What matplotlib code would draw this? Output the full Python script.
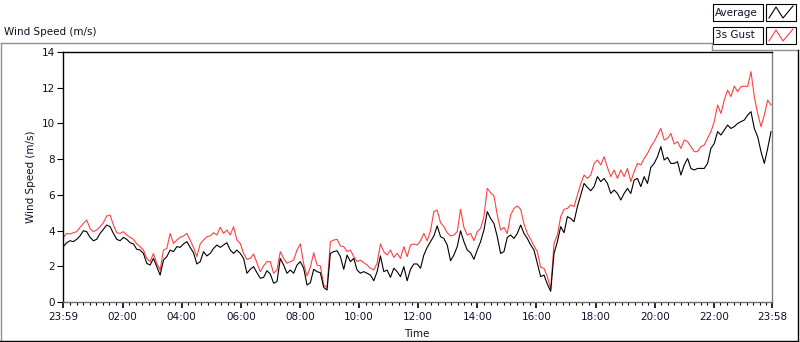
import numpy as np
import matplotlib
matplotlib.use("Agg")
import matplotlib.pyplot as plt
from matplotlib.lines import Line2D
from matplotlib.patches import Rectangle

plt.rcParams['font.family'] = ['DejaVu Sans']

# ---- data (one sample every ~6.8 minutes) ----
avg_part1 = [3.10, 3.32, 3.43, 3.38, 3.51, 3.70, 3.99, 3.94, 3.62, 3.43, 3.51, 3.84, 4.07, 4.31, 4.22,
             3.84, 3.51, 3.43, 3.62, 3.51, 3.32, 3.25, 2.95, 2.91, 2.72, 2.16, 2.07, 2.44, 1.98, 1.51,
             2.35, 2.54, 2.91, 2.82, 3.10]
gust_part1 = [3.62, 3.84, 3.81, 3.88, 3.94, 4.18, 4.40, 4.59, 4.12, 3.94, 4.03, 4.22, 4.44, 4.82, 4.87,
              4.31, 3.88, 3.84, 3.94, 3.75, 3.62, 3.51, 3.25, 3.10, 2.91, 2.44, 2.26, 2.72, 2.16, 1.79,
              2.91, 3.00, 3.84, 3.28, 3.47]
avg_part2 = [3.06, 3.25, 3.38, 3.06, 2.76, 2.13, 2.26, 2.82, 2.58, 2.72, 3.00, 3.19, 3.06, 3.19, 3.32,
             2.91, 2.72, 2.91, 2.72, 2.44, 1.61, 1.83, 1.98, 1.64, 1.33, 1.38, 1.75, 1.57, 1.05, 1.14,
             2.44, 2.07, 1.61, 1.79, 1.61]
gust_part2 = [3.62, 3.70, 3.84, 3.47, 3.06, 2.54, 3.25, 3.47, 3.66, 3.70, 3.88, 3.75, 4.18, 3.84, 4.03,
              3.75, 4.22, 3.47, 3.28, 2.72, 2.39, 2.44, 2.69, 2.20, 1.70, 2.02, 2.26, 2.26, 1.61, 1.79,
              2.82, 2.44, 2.17, 2.26, 2.35]
avg_part3 = [2.07, 2.26, 1.89, 0.95, 1.08, 1.83, 1.70, 1.64, 0.82, 0.67, 2.72, 2.82, 2.87, 2.54, 1.83,
             2.63, 2.26, 2.44, 1.79, 1.61, 1.70, 1.61, 1.51, 1.19, 1.70, 2.58, 1.70, 1.79, 1.38, 1.89,
             1.70, 1.42, 1.98, 1.19, 1.83, 2.13]
gust_part3 = [2.91, 3.25, 2.13, 1.46, 1.94, 2.76, 2.07, 2.02, 0.95, 0.82, 3.38, 3.47, 3.51, 3.14, 3.10,
              2.82, 2.91, 2.54, 2.26, 2.35, 2.20, 2.07, 1.89, 1.79, 2.17, 3.25, 2.82, 2.63, 2.91, 2.50,
              2.72, 2.44, 3.10, 2.54, 3.19, 3.25]
avg_part4 = [2.13, 1.89, 2.63, 3.06, 3.38, 3.70, 4.26, 3.66, 3.56, 3.19, 2.31, 2.63, 3.10, 3.99, 3.38,
             2.91, 2.76, 2.39, 2.91, 3.38, 4.03, 5.06, 4.68, 4.40, 3.66, 2.72, 2.82, 3.62, 3.75, 3.56,
             3.84, 4.31, 3.84, 3.56, 3.19, 2.91, 2.17]
gust_part4 = [3.19, 3.43, 3.84, 3.43, 3.99, 5.06, 5.15, 4.44, 4.22, 3.88, 3.70, 3.75, 3.94, 5.19, 4.18,
              3.75, 3.84, 3.43, 3.94, 4.12, 4.78, 6.36, 6.12, 5.94, 4.87, 4.03, 4.18, 3.84, 4.87, 5.24,
              5.38, 5.19, 4.37, 3.84, 3.51, 3.14, 2.82]
avg_part5 = [1.42, 1.51, 1.00, 0.60, 2.72, 3.38, 4.22, 3.88, 4.78, 4.68, 4.50, 5.34, 5.99, 6.64, 6.42,
             6.23, 6.46, 7.02, 6.74, 6.92, 6.64, 6.08, 6.27, 6.08, 5.71, 6.08, 6.36, 6.08, 6.83, 6.92,
             6.46, 7.02, 6.64, 7.54, 7.76, 8.14, 8.70]
gust_part5 = [1.94, 1.88, 1.42, 0.75, 3.28, 3.75, 4.78, 5.19, 5.24, 5.43, 5.34, 5.99, 6.61, 7.11, 6.92,
              7.11, 7.76, 7.95, 7.67, 8.14, 7.54, 7.02, 7.39, 6.92, 7.39, 7.02, 7.48, 6.74, 7.30, 7.76,
              7.67, 8.04, 8.32, 8.70, 8.98, 9.35, 9.72]
avg_part6 = [7.95, 8.10, 7.76, 7.76, 7.86, 7.11, 7.67, 8.04, 7.48, 7.39, 7.48, 7.48, 7.48, 7.76, 8.60,
             8.88, 9.54, 9.35, 9.63, 9.91, 9.72, 9.82, 10.00, 10.10, 10.19, 10.47, 10.66, 9.72, 9.26, 8.42,
             7.76, 8.60, 9.54]
gust_part6 = [9.07, 9.16, 9.44, 8.85, 8.98, 8.60, 9.07, 8.98, 8.70, 8.42, 8.42, 8.70, 8.79, 9.16, 9.54,
              10.10, 11.03, 10.56, 11.31, 11.87, 11.50, 12.09, 11.78, 12.06, 12.09, 12.06, 12.90, 11.50, 10.56, 9.82,
              10.47, 11.31, 11.03]

average = avg_part1 + avg_part2 + avg_part3 + avg_part4 + avg_part5 + avg_part6
gust = gust_part1 + gust_part2 + gust_part3 + gust_part4 + gust_part5 + gust_part6

first_sample_min = 0.68     # minutes after 23:59
sample_step_min = 6.775
time_min = first_sample_min + sample_step_min * np.arange(len(average))

x_tick_min = [0, 121, 241, 361, 481, 601, 721, 841, 961, 1081, 1201, 1321, 1439]
x_tick_labels = ["23:59", "02:00", "04:00", "06:00", "08:00", "10:00", "12:00",
                 "14:00", "16:00", "18:00", "20:00", "22:00", "23:58"]
y_ticks = [0, 2, 4, 6, 8, 10, 12, 14]

# ---- figure ----
W, H = 800, 342
fig = plt.figure(figsize=(W / 100, H / 100), dpi=100)
fig.patch.set_facecolor("white")


def fx(x):
    return x / W


def fy(y):
    return 1 - y / H


ax = fig.add_axes([fx(63), fy(302), (772 - 63) / W, (302 - 52) / H])
ax.plot(time_min, gust, color="#ff4040", lw=0.8, zorder=2)
ax.plot(time_min, average, color="black", lw=0.8, zorder=3)
ax.set_xlim(0, 1439)
ax.set_ylim(0, 14)

txt_col = "#10102a"
fs = 7.5
ax.set_yticks(y_ticks)
ax.set_yticklabels([str(v) for v in y_ticks], fontsize=fs, color=txt_col)
ax.set_xticks(x_tick_min)
ax.set_xticklabels(x_tick_labels, fontsize=fs, color=txt_col)
minor = [121 + k * 120 / 9 for k in range(-9, 120)]
minor = [m for m in minor if 0 < m < 1439 and all(abs(m - t) > 1 for t in x_tick_min)]
ax.set_xticks(minor, minor=True)
ax.tick_params(axis="y", direction="out", length=4, width=0.8, pad=2, color="black")
ax.tick_params(axis="x", which="major", direction="out", length=4.5, width=1.2, pad=3, color="black")
ax.tick_params(axis="x", which="minor", direction="out", length=2.5, width=0.8, color="black")

ax.spines["top"].set_color("black")
ax.spines["left"].set_color("black")
ax.spines["right"].set_color("#808080")
ax.spines["bottom"].set_color("#707070")
for s in ax.spines.values():
    s.set_linewidth(1.0)

ax.set_xlabel("Time", fontsize=fs, color=txt_col)
ax.xaxis.set_label_coords((417 - 63) / (772 - 63), -(334 - 302) / (302 - 52))
ax.xaxis.label.set_verticalalignment("center")
ax.set_ylabel("Wind Speed (m/s)", fontsize=fs, color=txt_col)
ax.yaxis.set_label_coords(-(63 - 31) / (772 - 63), 0.5)
ax.yaxis.label.set_verticalalignment("center")

# ---- outer panel frame ----
def fline(xs, ys, color, lw=1.0):
    fig.add_artist(Line2D([fx(v) for v in xs], [fy(v) for v in ys],
                          color=color, lw=lw, transform=fig.transFigure))


fline([0.5, 712], [42.5, 42.5], "#909090")
fline([712, 712], [42.5, 49.5], "#909090")
fline([712, 797.5], [49.5, 49.5], "#909090")
fline([0.5, 0.5], [42.5, 341], "#909090")
fline([0, 798], [340.5, 340.5], "black")
fline([797.5, 797.5], [49.5, 341], "black")

fig.text(fx(4), fy(32), "Wind Speed (m/s)", fontsize=fs, color=txt_col, va="center", ha="left")

# ---- legend ----
for (label, col, y0) in [("Average", "black", 4), ("3s Gust", "#ff4040", 27)]:
    fig.add_artist(Rectangle((fx(713), fy(y0 + 17)), 50 / W, 17 / H, transform=fig.transFigure,
                             facecolor="white", edgecolor="black", lw=0.8))
    fig.text(fx(715), fy(y0 + 8.5), label, fontsize=fs, color=txt_col, va="center", ha="left")
    fig.add_artist(Rectangle((fx(766), fy(y0 + 17)), 30 / W, 17 / H, transform=fig.transFigure,
                             facecolor="white", edgecolor="black", lw=0.8))
    fline([769, 776, 783, 793], [y0 + 14, y0 + 3, y0 + 14, y0 + 2], col, lw=0.8)

fig.savefig("out.png", dpi=100, facecolor="white")
